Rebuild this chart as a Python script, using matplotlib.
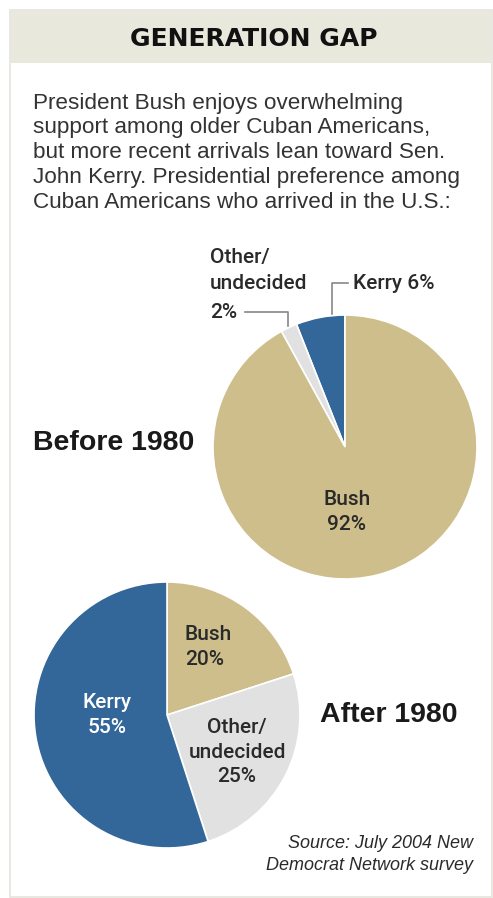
import matplotlib
matplotlib.use("Agg")
import matplotlib.pyplot as plt
from matplotlib.patches import Rectangle

W, H = 493, 898

# data
labels = ["Bush", "Other/\nundecided", "Kerry"]
before_1980 = [92, 2, 6]
after_1980 = [20, 25, 55]
colors = {"Bush": "#cdbe8b", "Other/\nundecided": "#e1e1e1", "Kerry": "#336699"}

title = "GENERATION GAP"
intro = [
    "President Bush enjoys overwhelming",
    "support among older Cuban Americans,",
    "but more recent arrivals lean toward Sen.",
    "John Kerry. Presidential preference among",
    "Cuban Americans who arrived in the U.S.:",
]
source = ["Source: July 2004 New", "Democrat Network survey"]

SANS = ["Liberation Sans", "DejaVu Sans"]
LABEL_FONT = ["Roboto", "Liberation Sans", "DejaVu Sans"]


def fx(x):
    return x / W


def fy(y):
    return 1 - y / H


def txt(x, y, s, **kw):
    kw.setdefault("family", SANS)
    kw.setdefault("color", "#222222")
    fig.text(fx(x), fy(y), s, **kw)


def pie_axes(cx, cy, r):
    return fig.add_axes([fx(cx - r), fy(cy + r), 2 * r / W, 2 * r / H])


def finish(ax):
    # pie() sets +-1.25 limits itself, so fix them afterwards
    ax.set_xlim(-1, 1)
    ax.set_ylim(-1, 1)
    ax.set_aspect("equal")
    ax.axis("off")


fig = plt.figure(figsize=(W / 100, H / 100), dpi=100)
fig.patch.set_facecolor("white")

# frame and header band
fig.patches.append(Rectangle((fx(10), fy(897)), fx(482), 887 / H, transform=fig.transFigure,
                             facecolor="none", edgecolor="#e4e4da", lw=1.2))
fig.patches.append(Rectangle((fx(10), fy(63)), fx(482), 53 / H, transform=fig.transFigure,
                             facecolor="#e8e8dc", edgecolor="none"))
txt(254, 39, title, fontsize=18, fontweight="heavy", ha="center", va="center",
    family=["DejaVu Sans"], color="#111111")

for i, line in enumerate(intro):
    txt(33, 103 + i * 25, line, fontsize=16.2, va="center", color="#333333")

# before 1980 pie: counterclockwise from top: Kerry, Other, Bush
ax1 = pie_axes(345, 447, 132)
order1 = [2, 1, 0]
ax1.pie([before_1980[i] for i in order1], colors=[colors[labels[i]] for i in order1],
        startangle=90, counterclock=True, radius=1,
        wedgeprops=dict(edgecolor="white", linewidth=1.2))
finish(ax1)

LAB = dict(fontsize=15, color="#2a2a2a", family=LABEL_FONT, fontweight="medium")
txt(347, 512, "Bush\n92%", ha="center", va="center", linespacing=1.4, **LAB)
txt(33, 443, "Before 1980", fontsize=20.5, fontweight="bold", va="center", color="#1a1a1a")

# leaders for small slices
fig.add_artist(plt.Line2D([fx(331.5), fx(331.5), fx(348)], [fy(314), fy(283), fy(283)],
                          color="#888888", lw=1.2))
txt(353, 284, "Kerry 6%", va="center", **LAB)
fig.add_artist(plt.Line2D([fx(245), fx(288), fx(288)], [fy(312), fy(312), fy(326)],
                          color="#888888", lw=1.2))
txt(210, 258, "Other/", va="center", **LAB)
txt(210, 284, "undecided", va="center", **LAB)
txt(210, 313, "2%", va="center", **LAB)

# after 1980 pie: clockwise from top: Bush, Other, Kerry
ax2 = pie_axes(167, 715, 133)
ax2.pie(after_1980, colors=[colors[l] for l in labels], startangle=90, counterclock=False,
        radius=1, wedgeprops=dict(edgecolor="white", linewidth=1.2))
finish(ax2)

txt(185, 647, "Bush\n20%", va="center", linespacing=1.4, **LAB)
txt(107, 715, "Kerry\n55%", ha="center", va="center", linespacing=1.4,
    **{**LAB, "color": "white"})
txt(237, 752, "Other/\nundecided\n25%", ha="center", va="center", linespacing=1.4, **LAB)
txt(320, 715, "After 1980", fontsize=20.5, fontweight="bold", va="center", color="#1a1a1a")

for i, line in enumerate(source):
    txt(473, 843 + i * 22, line, fontsize=13, style="italic", ha="right", va="center",
        color="#2a2a2a")

fig.savefig("out.png", dpi=100)
